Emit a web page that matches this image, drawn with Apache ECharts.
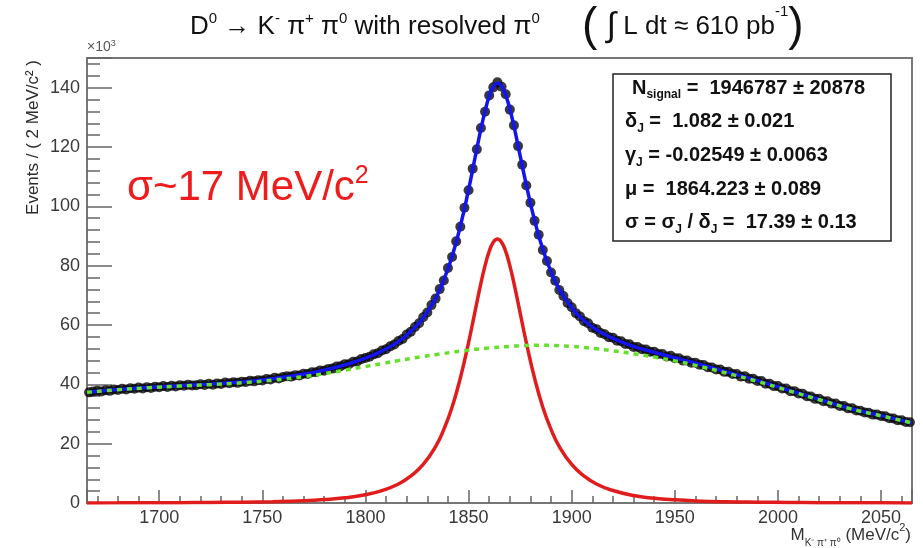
<!DOCTYPE html>
<html>
<head>
<meta charset="utf-8">
<script src="https://cdn.jsdelivr.net/npm/echarts@6/dist/echarts.min.js"></script>
<style>
  html, body { margin: 0; padding: 0; background: #fff; }
  #chart { width: 923px; height: 548px; }
</style>
</head>
<body>
<div id="chart"></div>
<script>
// histogram: 2 MeV bins from 1665 to 2065, first bin centre 1666
const binStart = 1666
const binWidth = 2
const dataCounts = [
  37.3, 37.6, 37.8, 37.6, 38.0, 37.8, 38.3, 38.1, 38.5, 38.3, 38.7, 38.5, 38.9, 38.6, 39.0, 38.8, 39.2, 39.0,
  39.4, 39.1, 39.5, 39.3, 39.7, 39.5, 39.9, 39.6, 39.7, 40.0, 39.8, 40.2, 39.9, 40.3, 40.1, 40.6, 40.4, 40.7, 40.5, 40.9,
  40.8, 41.2, 41.0, 41.4, 41.3, 41.8, 41.6, 42.2, 42.0, 42.5, 42.7, 42.6, 43.1, 43.0, 43.6, 43.5, 44.1, 44.1, 44.7, 44.6,
  45.2, 45.3, 46.0, 46.1, 46.8, 46.8, 47.6, 47.7, 48.5, 48.9, 49.3, 50.1, 50.5, 51.4, 51.8, 52.8, 53.4, 54.6, 55.3, 56.8,
  57.7, 59.3, 60.6, 62.6, 64.2, 66.7, 68.9, 72.1, 75.0, 79.2, 82.9, 88.2, 93.1, 99.5, 105.4, 112.7, 119.2, 126.4, 131.9, 137.4,
  140.1, 141.8, 140.3, 137.8, 132.6, 127.3, 120.3, 114.0, 107.0, 101.2, 95.1, 90.4, 85.3, 81.6, 77.7, 74.9, 71.8, 69.8, 67.4, 66.0,
  64.0, 62.9, 61.3, 60.6, 59.1, 58.6, 57.3, 56.9, 55.9, 55.7, 54.7, 54.5, 53.6, 53.5, 52.6, 52.6, 51.8, 51.7, 51.0, 51.0,
  50.2, 50.2, 49.4, 49.6, 48.8, 48.8, 48.0, 48.0, 47.3, 47.3, 46.6, 46.5, 45.8, 45.7, 45.0, 45.0, 44.2, 44.2, 43.5, 43.5,
  42.6, 42.7, 41.9, 41.9, 41.1, 41.1, 40.2, 40.2, 39.4, 39.4, 38.6, 38.6, 37.7, 37.7, 36.9, 36.8, 36.0, 35.9, 35.1, 35.1,
  34.3, 34.3, 33.5, 33.5, 32.7, 32.7, 31.9, 31.9, 31.2, 31.1, 30.5, 30.4, 29.8, 29.8, 29.3, 29.2, 28.6, 28.5, 27.9, 27.9, 27.3, 27.2
]

// fit curves (x10^3 events), sampled by hand along the drawn curves
const curveMass = [
  1665, 1680, 1695, 1710, 1725, 1740, 1755, 1770, 1780, 1790, 1800, 1808, 1816, 1822, 1828, 1834,
  1838, 1842, 1846, 1850, 1853, 1856, 1858, 1860, 1862, 1864, 1866, 1868, 1870, 1872, 1875, 1878,
  1882, 1886, 1890, 1894, 1900, 1906, 1912, 1920, 1930, 1940, 1950, 1960, 1975, 1990, 2005, 2020,
  2035, 2050, 2065
]
const signalCurve = [
  0.03, 0.05, 0.08, 0.11, 0.17, 0.28, 0.46, 0.77, 1.15, 1.75, 2.8, 4.2, 6.4, 9.1, 13.0, 19.0,
  24.8, 32.3, 42.1, 54.1, 64.1, 74.1, 80.0, 84.8, 87.9, 89.0, 87.9, 84.8, 80.0, 74.1, 64.1, 54.1,
  42.1, 32.3, 24.8, 19.0, 13.0, 9.1, 6.4, 4.2, 2.5, 1.6, 1.06, 0.71, 0.42, 0.27, 0.17, 0.11,
  0.07, 0.05, 0.03
]
const backgroundCurve = [
  37.3, 38.2, 38.85, 39.4, 39.9, 40.5, 41.4, 42.6, 43.6, 44.8, 46.0, 47.0, 48.0, 48.7, 49.4, 50.0,
  50.4, 50.8, 51.2, 51.5, 51.8, 52.0, 52.1, 52.3, 52.4, 52.5, 52.6, 52.7, 52.8, 52.9, 53.0, 53.1,
  53.2, 53.2, 53.1, 53.0, 52.8, 52.4, 52.0, 51.3, 50.3, 49.2, 47.9, 46.4, 43.8, 41.0, 37.9, 34.8,
  31.8, 29.4, 27.0
]

const statLines = [
  '{b|N}{s|signal}{b| =  1946787 ± 20878}',
  '{b|δ}{s|J}{b| =  1.082 ± 0.021}',
  '{b|γ}{s|J}{b| = -0.02549 ± 0.0063}',
  '{b|μ =  1864.223 ± 0.089}',
  '{b|σ = σ}{s|J}{b| / δ}{s|J}{b| =  17.39 ± 0.13}'
]

const font = 'Liberation Sans, Arial, sans-serif'
const chart = echarts.init(document.getElementById('chart'))

const dataPoints = dataCounts.map((v, i) => [binStart + binWidth * i, v])
const signalPoints = curveMass.map((m, i) => [m, signalCurve[i]])
const backgroundPoints = curveMass.map((m, i) => [m, backgroundCurve[i]])
const totalPoints = curveMass.map((m, i) => [m, +(signalCurve[i] + backgroundCurve[i]).toFixed(2)])

const tickStyle = { color: '#666', width: 1.5 }
const labelStyle = { color: '#3a3a3a', fontSize: 18, fontFamily: font, formatter: v => String(v) }

const statsBox = {
  type: 'group',
  children: [
    { type: 'rect', shape: { x: 613, y: 74, width: 278, height: 167 },
      style: { fill: '#fff', stroke: '#222', lineWidth: 1.5 } }
  ].concat(statLines.map((t, i) => ({
    type: 'text',
    x: i === 0 ? 632 : 625,
    y: 88 + i * 33.7,
    style: {
      text: t,
      textVerticalAlign: 'middle',
      rich: {
        b: { fontSize: 20, fontWeight: 'bold', fontFamily: font, fill: '#111', lineHeight: 26 },
        s: { fontSize: 12, fontWeight: 'bold', fontFamily: font, fill: '#111', verticalAlign: 'bottom' }
      }
    }
  })))
}

chart.setOption({
  animation: false,
  grid: {
    left: 87, right: 11, top: 58, bottom: 45,
    show: true, borderColor: '#777', borderWidth: 2
  },
  xAxis: {
    type: 'value', min: 1665, max: 2065,
    splitNumber: 8, minInterval: 50, maxInterval: 50,
    axisLine: { show: true, onZero: false, lineStyle: { color: '#777', width: 2 } },
    axisTick: { show: true, inside: true, length: 13, lineStyle: tickStyle },
    minorTick: { show: true, splitNumber: 5, length: 7, lineStyle: tickStyle },
    axisLabel: Object.assign({ showMinLabel: false, showMaxLabel: false, margin: 6 }, labelStyle),
    splitLine: { show: false }
  },
  yAxis: {
    type: 'value', min: 0, max: 150, interval: 20,
    axisLine: { show: true, lineStyle: { color: '#777', width: 2 } },
    axisTick: { show: true, inside: true, length: 25, lineStyle: tickStyle },
    minorTick: { show: true, splitNumber: 5, length: 13, lineStyle: tickStyle },
    axisLabel: Object.assign({ showMaxLabel: false, margin: 7 }, labelStyle),
    splitLine: { show: false }
  },
  series: [
    {
      name: 'data', type: 'scatter', data: dataPoints, z: 2,
      symbol: 'circle', symbolSize: 10,
      itemStyle: { color: '#080808' }
    },
    {
      name: 'total', type: 'line', data: totalPoints, z: 3,
      showSymbol: false, smooth: true,
      lineStyle: { color: '#1414ee', width: 3.5 }
    },
    {
      name: 'signal', type: 'line', data: signalPoints, z: 4,
      showSymbol: false, smooth: true,
      lineStyle: { color: '#e01c1c', width: 3.5 }
    },
    {
      name: 'background', type: 'line', data: backgroundPoints, z: 5,
      showSymbol: false, smooth: true,
      lineStyle: { color: '#66e02a', width: 3.5, type: [5, 5] }
    }
  ],
  graphic: [
    {
      type: 'text', x: 190, y: 27,
      style: {
        text: '{n|D}{sup|0}{n| → K}{sup|-}{n| π}{sup|+}{n| π}{sup|0}{n| with resolved π}{sup|0}',
        textVerticalAlign: 'middle',
        rich: {
          n: { fontSize: 26, fontFamily: font, fill: '#111', lineHeight: 32 },
          sup: { fontSize: 15, fontFamily: font, fill: '#111', verticalAlign: 'top' }
        }
      }
    },
    {
      type: 'text', x: 582, y: 27,
      style: {
        text: '{p|(}{i| ∫}{n| L dt ≈ 610 pb}{sup|-1}{p|)}',
        textVerticalAlign: 'middle',
        rich: {
          p: { fontSize: 46, fontFamily: font, fill: '#111' },
          i: { fontSize: 34, fontFamily: font, fill: '#111' },
          n: { fontSize: 26, fontFamily: font, fill: '#111', lineHeight: 32 },
          sup: { fontSize: 15, fontFamily: font, fill: '#111', verticalAlign: 'top' }
        }
      }
    },
    {
      type: 'text', x: 87, y: 47,
      style: {
        text: '{a|×10}{s|3}',
        textVerticalAlign: 'middle',
        rich: {
          a: { fontSize: 14, fontFamily: font, fill: '#555', lineHeight: 16 },
          s: { fontSize: 9, fontFamily: font, fill: '#555', verticalAlign: 'top' }
        }
      }
    },
    {
      type: 'text', x: 33, y: 60, rotation: Math.PI / 2,
      style: {
        text: 'Events / ( 2 MeV/c² )',
        textAlign: 'right', textVerticalAlign: 'middle',
        fontSize: 17, fontFamily: font, fill: '#2a2a2a'
      }
    },
    {
      type: 'text', x: 911, y: 535,
      style: {
        text: '{n|M}{sub|K⁻ π⁺ π⁰}{n| (MeV/c}{sup|2}{n|)}',
        textAlign: 'right', textVerticalAlign: 'middle',
        rich: {
          n: { fontSize: 17, fontFamily: font, fill: '#333', lineHeight: 26 },
          sub: { fontSize: 10, fontFamily: font, fill: '#333', verticalAlign: 'bottom' },
          sup: { fontSize: 11, fontFamily: font, fill: '#333', verticalAlign: 'top' }
        }
      }
    },
    {
      type: 'text', x: 127, y: 188,
      style: {
        text: '{a|σ~17 MeV/c}{s|2}',
        textVerticalAlign: 'middle',
        rich: {
          a: { fontSize: 42, fontFamily: font, fill: '#ee1c1c', lineHeight: 48 },
          s: { fontSize: 25, fontFamily: font, fill: '#ee1c1c', verticalAlign: 'top' }
        }
      }
    },
    statsBox
  ]
})
</script>
</body>
</html>
